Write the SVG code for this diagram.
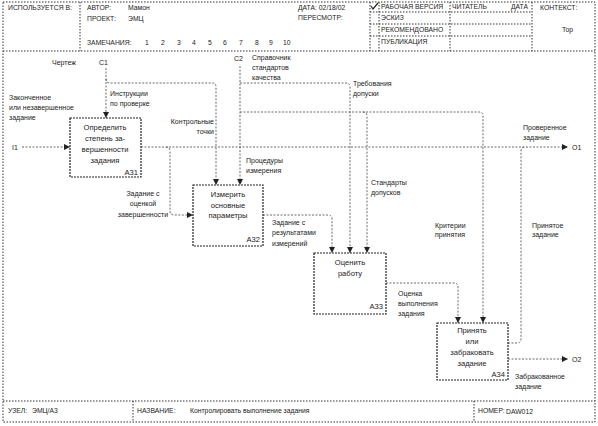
<svg xmlns="http://www.w3.org/2000/svg" width="598" height="426" viewBox="0 0 598 426">
<defs>
<style>
.frame{fill:none;stroke:#333;stroke-width:1;stroke-dasharray:1.5 1.5}
.box{fill:#fff;stroke:#222;stroke-width:1.2;stroke-dasharray:2 1}
.conn{fill:none;stroke:#444;stroke-width:0.8;stroke-dasharray:2 1.5}
text{font-family:"Liberation Sans",Arial,sans-serif;font-size:7px;fill:#222}
.h{font-size:6.8px}
.b{font-size:7.6px}
.m{text-anchor:middle}
.e{text-anchor:end}
</style>
<marker id="arr" markerUnits="userSpaceOnUse" markerWidth="7" markerHeight="6" refX="6" refY="3" orient="auto">
<path d="M0,0 L6,3 L0,6 z" fill="#222"/>
</marker>
</defs>
<rect width="598" height="426" fill="#fff"/>
<g id="frame">
<rect class="frame" x="3" y="2" width="592" height="420"/>
<line class="frame" x1="3" y1="51" x2="595" y2="51"/>
<line class="frame" x1="80" y1="2" x2="80" y2="51"/>
<line class="frame" x1="370" y1="2" x2="370" y2="51"/>
<line class="frame" x1="379" y1="2" x2="379" y2="51"/>
<line class="frame" x1="450" y1="2" x2="450" y2="51"/>
<line class="frame" x1="532" y1="2" x2="532" y2="51"/>
<line class="frame" x1="370" y1="12" x2="532" y2="12"/>
<line class="frame" x1="370" y1="24" x2="532" y2="24"/>
<line class="frame" x1="370" y1="36" x2="532" y2="36"/>
<line class="frame" x1="3" y1="401" x2="595" y2="401"/>
<line class="frame" x1="133" y1="401" x2="133" y2="422"/>
<line class="frame" x1="474" y1="401" x2="474" y2="422"/>
<path d="M371,6 L373,9 L378,3" fill="none" stroke="#222" stroke-width="1.2"/>
<text class="h" x="8" y="10">ИСПОЛЬЗУЕТСЯ В:</text>
<text class="h" x="87" y="10">АВТОР:</text>
<text class="h" x="128" y="10">Мамон</text>
<text class="h" x="87" y="21">ПРОЕКТ:</text>
<text class="h" x="128" y="21">ЭМЦ</text>
<text class="h" x="87" y="45">ЗАМЕЧАНИЯ:</text>
<text class="h" x="145" y="45">1</text>
<text class="h" x="161" y="45">2</text>
<text class="h" x="177" y="45">3</text>
<text class="h" x="192" y="45">4</text>
<text class="h" x="208" y="45">5</text>
<text class="h" x="223" y="45">6</text>
<text class="h" x="239" y="45">7</text>
<text class="h" x="255" y="45">8</text>
<text class="h" x="269" y="45">9</text>
<text class="h" x="283" y="45">10</text>
<text class="h" x="298" y="10">ДАТА: 02/18/02</text>
<text class="h" x="298" y="20">ПЕРЕСМОТР:</text>
<text class="h" x="381" y="9">РАБОЧАЯ ВЕРСИЯ</text>
<text class="h" x="381" y="20">ЭСКИЗ</text>
<text class="h" x="381" y="32">РЕКОМЕНДОВАНО</text>
<text class="h" x="381" y="44">ПУБЛИКАЦИЯ</text>
<text class="h" x="452" y="9">ЧИТАТЕЛЬ</text>
<text class="h" x="511" y="9">ДАТА</text>
<text class="h" x="540" y="10">КОНТЕКСТ:</text>
<text class="h" x="562" y="32">Top</text>
<text class="h" x="8" y="413">УЗЕЛ:</text>
<text class="h" x="32" y="413">ЭМЦ/А3</text>
<text class="h" x="137" y="413">НАЗВАНИЕ:</text>
<text class="h" x="190" y="413">Контролировать выполнение задания</text>
<text class="h" x="478" y="413">НОМЕР:</text>
<text class="h" x="506" y="414">DAW012</text>
</g>
<g id="connectors">
<path class="conn" d="M106,68 V118" marker-end="url(#arr)"/>
<path class="conn" d="M106,79 Q106,83 110,83 H212 Q216,83 216,87 V185" marker-end="url(#arr)"/>
<path class="conn" d="M240,66 V185" marker-end="url(#arr)"/>
<path class="conn" d="M240,83 H346 Q350,83 350,87 V253" marker-end="url(#arr)"/>
<path class="conn" d="M240,112 H479 Q483,112 483,116 V323" marker-end="url(#arr)"/>
<path class="conn" d="M363,112 Q367,112 367,116 V253" marker-end="url(#arr)"/>
<path class="conn" d="M22,147 H70" marker-end="url(#arr)"/>
<path class="conn" d="M141,147 H568" marker-end="url(#arr)"/>
<path class="conn" d="M166,147 Q170,147 170,151 V211 Q170,215 174,215 H193" marker-end="url(#arr)"/>
<path class="conn" d="M263,215 H328 Q332,215 332,219 V253" marker-end="url(#arr)"/>
<path class="conn" d="M386,283 H454 Q458,283 458,287 V323" marker-end="url(#arr)"/>
<path class="conn" d="M508,343 H517 Q521,343 521,339 V151 Q521,147 525,147"/>
<path class="conn" d="M508,359 H568" marker-end="url(#arr)"/>
<text x="9" y="99.5">Законченное</text>
<text x="9" y="109.5">или незавершенное</text>
<text x="9" y="119.5">задание</text>
<text x="12" y="149.5">I1</text>
<text x="52" y="64.5">Чертеж</text>
<text x="99" y="64.5">C1</text>
<text x="110" y="95.5">Инструкции</text>
<text x="110" y="105.5">по проверке</text>
<text class="e" x="214" y="123.5">Контрольные</text>
<text class="e" x="214" y="133.5">точки</text>
<text x="234" y="61">C2</text>
<text x="252" y="59.5">Справочник</text>
<text x="252" y="69.5">стандартов</text>
<text x="252" y="79.5">качества</text>
<text x="353" y="85.5">Требования</text>
<text x="353" y="95.5">допуски</text>
<text x="246" y="162.5">Процедуры</text>
<text x="246" y="173">измерения</text>
<text x="523" y="129.5">Проверенное</text>
<text x="523" y="139.5">задание</text>
<text x="572" y="150">O1</text>
<text class="m" x="143" y="195.5">Задание с</text>
<text class="m" x="143" y="206">оценкой</text>
<text class="m" x="143" y="216.5">завершенности</text>
<text x="272" y="224.5">Задание с</text>
<text x="272" y="234.5">результатами</text>
<text x="272" y="245.5">измерений</text>
<text x="371" y="184.5">Стандарты</text>
<text x="371" y="194.5">допусков</text>
<text x="435" y="227.5">Критерии</text>
<text x="435" y="236.5">принятия</text>
<text x="532" y="227.5">Принятое</text>
<text x="532" y="236.5">задание</text>
<text x="398" y="295.5">Оценка</text>
<text x="398" y="305.5">выполнения</text>
<text x="398" y="315.5">задания</text>
<text x="572" y="362">O2</text>
<text x="515" y="378.5">Забракованное</text>
<text x="515" y="388.5">задание</text>
</g>
<g id="A31">
<rect class="box" x="70" y="118" width="71" height="59"/>
<text class="m b" x="105" y="129.5">Определить</text>
<text class="m b" x="105" y="140.5">степень за-</text>
<text class="m b" x="105" y="151.5">вершенности</text>
<text class="m b" x="105" y="162.5">задания</text>
<text class="e b" x="138" y="175">A31</text>
</g>
<g id="A32">
<rect class="box" x="193" y="185" width="70" height="61"/>
<text class="m b" x="228" y="196.5">Измерить</text>
<text class="m b" x="228" y="207.5">основные</text>
<text class="m b" x="228" y="218">параметры</text>
<text class="e b" x="260" y="242">A32</text>
</g>
<g id="A33">
<rect class="box" x="314" y="253" width="72" height="61"/>
<text class="m b" x="350" y="264.5">Оценить</text>
<text class="m b" x="350" y="275.5">работу</text>
<text class="e b" x="383" y="309">A33</text>
</g>
<g id="A34">
<rect class="box" x="437" y="323" width="71" height="57"/>
<text class="m b" x="472" y="332.5">Принять</text>
<text class="m b" x="472" y="343.5">или</text>
<text class="m b" x="472" y="354.5">забраковать</text>
<text class="m b" x="472" y="365.5">задание</text>
<text class="e b" x="505" y="376.5">A34</text>
</g>
</svg>
